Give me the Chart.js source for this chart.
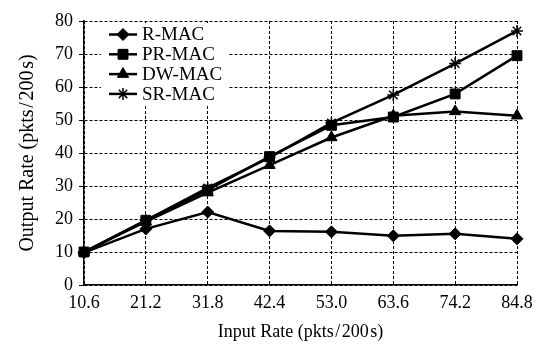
<!DOCTYPE html>
<html>
<head>
<meta charset="utf-8">
<script src="https://cdn.jsdelivr.net/npm/chart.js@4.4.1/dist/chart.umd.min.js"></script>
<style>
  html, body { margin: 0; padding: 0; background: #fff; }
  #wrap { width: 547px; height: 347px; position: relative; }
</style>
</head>
<body>
<div id="wrap"><canvas id="rateChart"></canvas></div>
<script>
/* ---- data ---- */
const inputRates = ['10.6', '21.2', '31.8', '42.4', '53.0', '63.6', '74.2', '84.8'];
const rMac  = [9.8, 17.0, 22.1, 16.4, 16.1, 14.9, 15.5, 14.0];
const prMac = [10.0, 19.6, 28.8, 38.9, 48.4, 50.9, 57.9, 69.5];
const dwMac = [10.0, 19.2, 28.0, 36.3, 44.7, 51.3, 52.6, 51.3];
const srMac = [10.0, 19.6, 29.4, 38.6, 49.1, 57.6, 67.1, 77.0];
const yTicks = [0, 10, 20, 30, 40, 50, 60, 70, 80];

const FONT = "'Liberation Serif', 'Times New Roman', serif";

function series(label, data, style, radius) {
  return {
    label: label,
    data: data,
    borderColor: '#000',
    backgroundColor: '#000',
    borderWidth: 2.5,
    pointStyle: style,
    pointRadius: radius,
    pointBorderWidth: style === 'star' ? 1.5 : 1,
    pointBackgroundColor: '#000',
    pointBorderColor: '#000',
    tension: 0,
    fill: false
  };
}

/* in-plot legend, white box top-left */
const boxLegend = {
  id: 'boxLegend',
  afterDatasetsDraw(chart) {
    const ctx = chart.ctx;
    ctx.save();
    ctx.fillStyle = '#fff';
    ctx.fillRect(101, 23, 127, 81);
    chart.data.datasets.forEach((ds, i) => {
      const y = 34.5 + i * 19.8;
      ctx.strokeStyle = '#000';
      ctx.fillStyle = '#000';
      ctx.lineWidth = 2.5;
      ctx.beginPath();
      ctx.moveTo(109, y);
      ctx.lineTo(137, y);
      ctx.stroke();
      ctx.lineWidth = ds.pointBorderWidth;
      Chart.helpers.drawPoint(ctx, {
        pointStyle: ds.pointStyle,
        radius: ds.pointRadius,
        borderWidth: ds.pointBorderWidth
      }, 123, y);
      ctx.font = '19px ' + FONT;
      ctx.textBaseline = 'middle';
      ctx.fillText(ds.label, 142, y + 1);
    });
    ctx.restore();
  }
};

new Chart(document.getElementById('rateChart'), {
  type: 'line',
  data: {
    labels: inputRates,
    datasets: [
      series('R-MAC',  rMac,  'rectRot', 6),
      series('PR-MAC', prMac, 'rect', 7),
      series('DW-MAC', dwMac, 'triangle', 6.5),
      series('SR-MAC', srMac, 'star', 6)
    ]
  },
  options: {
    responsive: true,
    maintainAspectRatio: false,
    animation: false,
    layout: { padding: { left: 0, right: 30, top: 21, bottom: 0 } },
    plugins: {
      legend: { display: false },
      tooltip: { enabled: false }
    },
    scales: {
      x: {
        type: 'category',
        offset: false,
        afterFit: s => { s.height = 62; },
        grid: { color: '#000', lineWidth: 1, drawTicks: false },
        border: { display: true, color: '#000', width: 1.5, dash: [3, 2] },
        ticks: { color: '#000', font: { size: 18, family: FONT }, padding: 7, maxRotation: 0 },
        title: {
          display: true,
          text: 'Input Rate (pkts\u200A/\u200A200\u200As)',
          color: '#000',
          font: { size: 18, family: FONT },
          padding: { top: 0, bottom: 4 }
        }
      },
      y: {
        min: 0, max: 80,
        afterFit: s => { s.width = 84; },
        afterBuildTicks: s => { s.ticks = yTicks.map(v => ({ value: v })); },
        grid: { color: '#000', lineWidth: 1, drawTicks: true, tickLength: 5 },
        border: { display: true, color: '#000', width: 1.5, dash: [3, 2] },
        ticks: { color: '#000', font: { size: 18, family: FONT }, padding: 6 },
        title: {
          display: true,
          text: 'Output Rate (pkts\u200A/\u200A200\u200As)',
          color: '#000',
          font: { size: 20, family: FONT },
          padding: { top: 16, bottom: 0 }
        }
      }
    }
  },
  plugins: [boxLegend]
});
</script>
</body>
</html>
